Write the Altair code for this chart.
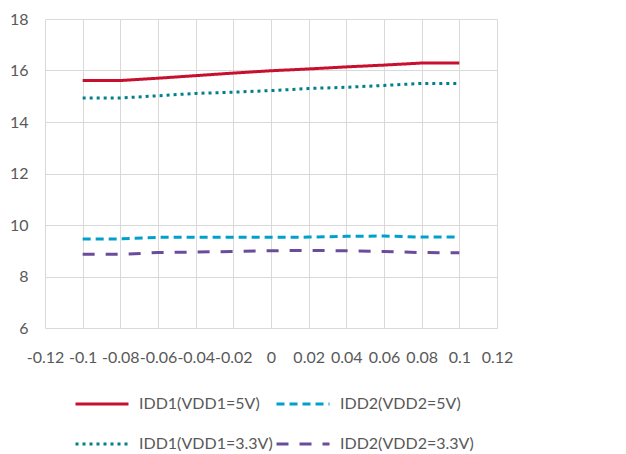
import altair as alt
import pandas as pd

x_vals = [-0.1, -0.08, -0.06, -0.04, -0.02, 0.0, 0.02, 0.04, 0.06, 0.08, 0.1]
series_names = ["IDD1(VDD1=5V)", "IDD2(VDD2=5V)", "IDD1(VDD1=3.3V)", "IDD2(VDD2=3.3V)"]
idd1_5v = [15.61, 15.61, 15.70, 15.80, 15.90, 15.99, 16.06, 16.14, 16.21, 16.29, 16.29]
idd2_5v = [9.46, 9.46, 9.52, 9.52, 9.52, 9.52, 9.53, 9.56, 9.57, 9.53, 9.53]
idd1_33v = [14.93, 14.93, 15.02, 15.11, 15.16, 15.22, 15.30, 15.35, 15.42, 15.50, 15.50]
idd2_33v = [8.86, 8.86, 8.93, 8.95, 8.97, 9.00, 9.01, 9.00, 8.97, 8.93, 8.92]
x_ticks = [-0.12, -0.1, -0.08, -0.06, -0.04, -0.02, 0.0, 0.02, 0.04, 0.06, 0.08, 0.1, 0.12]
y_ticks = [6, 8, 10, 12, 14, 16, 18]

colors = ["#C8102E", "#00A0CC", "#007F8C", "#6B4C9A"]
dashes = [[1, 0], [8, 5], [3, 4], [12, 11]]

rows = []
for name, vals in zip(series_names, [idd1_5v, idd2_5v, idd1_33v, idd2_33v]):
    for xv, yv in zip(x_vals, vals):
        rows.append({"x": xv, "y": yv, "series": name})
df = pd.DataFrame(rows)

FONT = "Lato"

x_label = "replace(datum.value == 0 ? '0' : format(datum.value, '.2~f'), '\u2212', '-')"

chart = alt.Chart(df).mark_line(strokeWidth=3, strokeJoin="round").encode(
    x=alt.X("x:Q",
            scale=alt.Scale(domain=[-0.12, 0.12], nice=False, zero=False),
            axis=alt.Axis(title=None, values=x_ticks, labelExpr=x_label, grid=True,
                          labelOverlap=False, ticks=False, tickSize=0, domain=False,
                          labelPadding=21, labelFlush=False)),
    y=alt.Y("y:Q",
            scale=alt.Scale(domain=[6, 18], nice=False, zero=False),
            axis=alt.Axis(title=None, values=y_ticks, grid=True, ticks=False, tickSize=0,
                          domain=False, labelPadding=17, labelOverlap=False)),
    color=alt.Color("series:N", sort=series_names,
                    scale=alt.Scale(domain=series_names, range=colors),
                    legend=alt.Legend(title=None, orient="none", legendX=29, legendY=357,
                                      direction="horizontal",
                                      columns=2, symbolType="M-1,0L1,0", symbolSize=2809,
                                      symbolStrokeWidth=3, labelOffset=9, columnPadding=-3,
                                      rowPadding=4, padding=0, labelFontSize=16,
                                      labelColor="#595959", labelFont=FONT, labelLimit=300)),
    strokeDash=alt.StrokeDash("series:N", sort=series_names,
                              scale=alt.Scale(domain=series_names, range=dashes),
                              legend=None),
).properties(
    width=452, height=309,
    autosize=alt.AutoSizeParams(type="none"),
    padding={"left": 37, "top": 11, "right": 121, "bottom": 126},
).configure_axis(
    labelFont=FONT, labelFontSize=16, labelColor="#595959",
    gridColor="#D9D9D9", gridWidth=1,
).configure_view(stroke=None)

chart.save("out.html", embed_options={"renderer": "svg", "actions": False})
